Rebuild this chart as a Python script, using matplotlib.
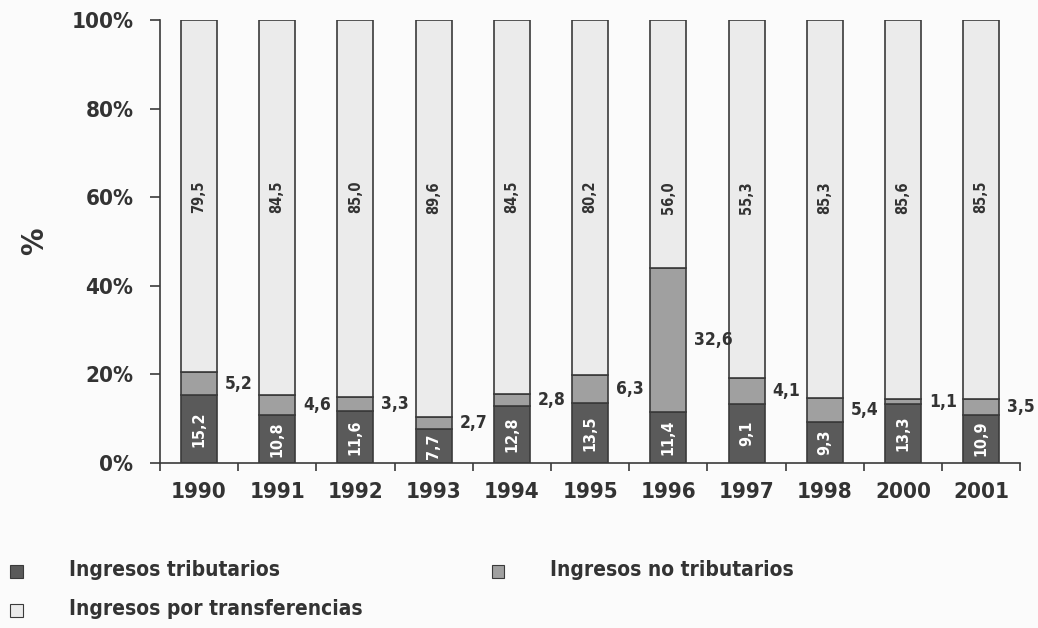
import matplotlib.pyplot as plt
from matplotlib.patches import Rectangle
import numpy as np

years = ["1990", "1991", "1992", "1993", "1994", "1995", "1996", "1997", "1998", "2000", "2001"]
tributarios = [15.2, 10.8, 11.6, 7.7, 12.8, 13.5, 11.4, 9.1, 9.3, 13.3, 10.9]
no_tributarios = [5.2, 4.6, 3.3, 2.7, 2.8, 6.3, 32.6, 4.1, 5.4, 1.1, 3.5]
transferencias = [79.5, 84.5, 85.0, 89.6, 84.5, 80.2, 56.0, 55.3, 85.3, 85.6, 85.5]

plt.rcParams['font.family'] = ['DejaVu Sans']
plt.rcParams['font.stretch'] = 'condensed'
plt.rcParams['font.weight'] = 'bold'

c_dark = "#5a5a5a"
c_mid = "#a0a0a0"
c_light = "#ebebeb"
c_edge = "#3a3a3a"
c_text = "#333333"

# 100% stacked: normalise each year
t = np.array(tributarios)
n = np.array(no_tributarios)
r = np.array(transferencias)
tot = t + n + r
t_p = t / tot * 100
n_p = n / tot * 100
r_p = r / tot * 100

fig = plt.figure(figsize=(10.38, 6.28), dpi=100, facecolor="#fbfbfb")
ax = fig.add_axes([0.154, 0.263, 0.829, 0.705])
ax.set_facecolor("#fbfbfb")

x = np.arange(len(years))
w = 0.46
ax.bar(x, t_p, w, color=c_dark, edgecolor=c_edge, linewidth=1.2)
ax.bar(x, n_p, w, bottom=t_p, color=c_mid, edgecolor=c_edge, linewidth=1.2)
ax.bar(x, r_p, w, bottom=t_p + n_p, color=c_light, edgecolor=c_edge, linewidth=1.2)

for i in range(len(years)):
    ax.text(x[i], t_p[i] / 2, f"{tributarios[i]:.1f}".replace(".", ","), rotation=90,
            ha="center", va="center", color="white", fontsize=11.5)
    ax.text(x[i] + w / 2 + 0.1, t_p[i] + n_p[i] / 2, f"{no_tributarios[i]:.1f}".replace(".", ","),
            ha="left", va="center", color=c_text, fontsize=12.5)
    ax.text(x[i], 60, f"{transferencias[i]:.1f}".replace(".", ","), rotation=90,
            ha="center", va="center", color=c_text, fontsize=10.5)

ax.set_xlim(-0.5, len(years) - 0.5)
ax.set_ylim(0, 100)
ax.set_yticks([0, 20, 40, 60, 80, 100])
ax.set_yticklabels(["0%", "20%", "40%", "60%", "80%", "100%"])
ax.set_xticks(x)
ax.set_xticklabels(years)
ax.set_xticks(np.arange(len(years) + 1) - 0.5, minor=True)
ax.tick_params(axis='x', which='major', length=0, pad=14, labelsize=16, labelcolor=c_text)
ax.tick_params(axis='x', which='minor', length=6, width=1.2, color=c_edge)
ax.tick_params(axis='y', length=7, width=1.2, color=c_edge, labelsize=16, labelcolor=c_text, pad=12)
ax.spines['top'].set_visible(False)
ax.spines['right'].set_visible(False)
ax.spines['left'].set_color(c_edge)
ax.spines['bottom'].set_color(c_edge)
ax.spines['left'].set_linewidth(1.2)
ax.spines['bottom'].set_linewidth(1.2)
ax.set_ylabel("%", fontsize=22, fontweight="bold", color=c_text, labelpad=16)

# legend
items = [(c_dark, "Ingresos tributarios", 0.010, 0.092),
         (c_mid, "Ingresos no tributarios", 0.474, 0.092),
         (c_light, "Ingresos por transferencias", 0.010, 0.030)]
for col, lab, lx, ly in items:
    fig.add_artist(Rectangle((lx, ly - 0.013), 0.012, 0.022, transform=fig.transFigure,
                             facecolor=col, edgecolor=c_edge, linewidth=0.8))
    fig.text(lx + 0.056, ly, lab, fontsize=15, color=c_text, va="center", ha="left")

plt.savefig("out.png", dpi=100, facecolor=fig.get_facecolor())
